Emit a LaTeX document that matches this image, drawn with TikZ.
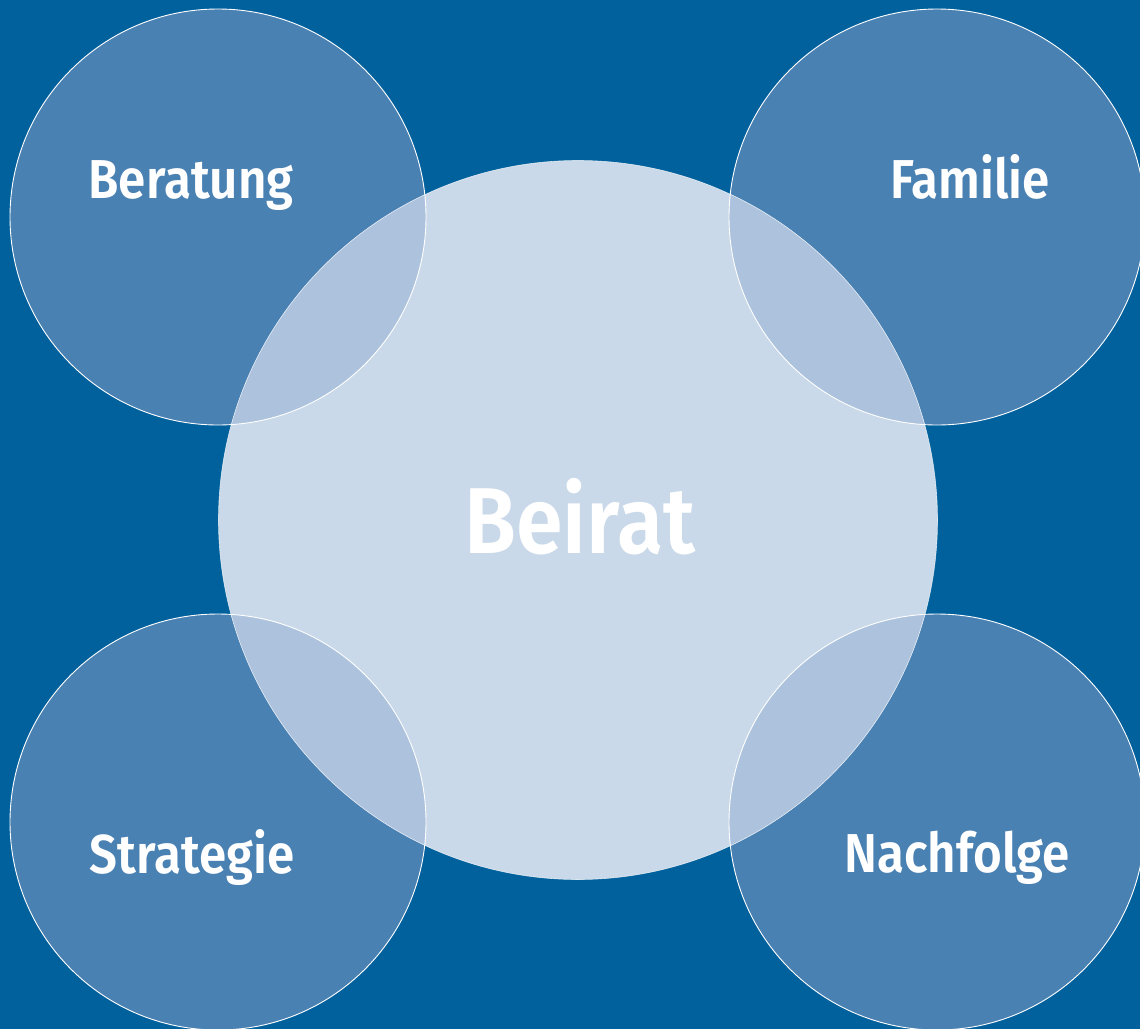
\documentclass[tikz,border=0pt]{standalone}
\usepackage{fontspec}
\setmainfont{Fira Sans}[BoldFont={Fira Sans SemiBold}]
\definecolor{bgblue}{HTML}{00619D}
\definecolor{ringblue}{HTML}{4A81B3}
\definecolor{coreblue}{HTML}{C9D9E9}
\definecolor{cutblue}{HTML}{ADC3DD}
\newcommand{\narrow}[1]{\scalebox{0.9}[1]{#1}}

\begin{document}
\begin{tikzpicture}[x=1bp,y=-1bp,
  side circle/.style={circle,minimum size=416bp,inner sep=0pt,fill=ringblue},
  side text/.style={anchor=base,text=white,font=\fontsize{55}{60}\selectfont\bfseries}]
\fill[bgblue] (0,0) rectangle (1140,1029);
\useasboundingbox (0,0) rectangle (1140,1029);
% four outer circles
\node[side circle] (beratung) at (218,217) {};
\node[side circle] (familie) at (937,217) {};
\node[side circle] (strategie) at (218,822) {};
\node[side circle] (nachfolge) at (937,822) {};
% centre circle
\node[circle,minimum size=719bp,inner sep=0pt,fill=coreblue] (beirat) at (578,520) {};
% overlaps
\begin{scope}
  \clip (beirat.center) circle (359.5bp);
  \foreach \n in {beratung,familie,strategie,nachfolge}
    \fill[cutblue] (\n.center) circle (208bp);
\end{scope}
\draw[white,line width=0.6bp,opacity=0.7] (beirat.center) circle (359.5bp);
\foreach \n in {beratung,familie,strategie,nachfolge}
  \draw[white,line width=0.9bp] (\n.center) circle (208bp);
% labels
\node[side text] at (191,198) {\narrow{Beratung}};
\node[side text] at (970,198) {\narrow{Familie}};
\node[side text] at (192,873) {\narrow{Strategie}};
\node[side text] at (957,872) {\narrow{Nachfolge}};
\node[side text,font=\fontsize{94}{100}\selectfont\bfseries] at (580,553) {\narrow{Beirat}};
\end{tikzpicture}
\end{document}
